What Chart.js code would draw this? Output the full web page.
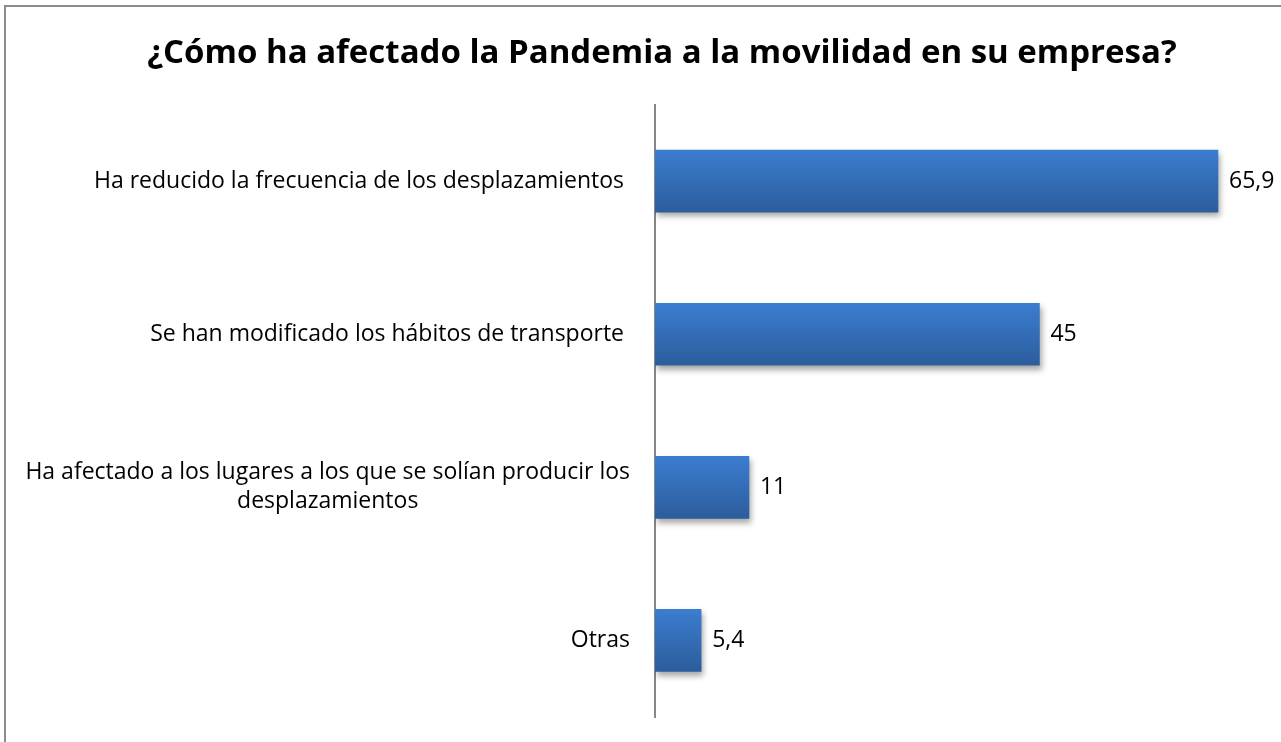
<!DOCTYPE html>
<html>
<head>
<meta charset="utf-8">
<script src="https://cdn.jsdelivr.net/npm/chart.js@4"></script>
<style>
  html, body { margin: 0; padding: 0; background: #fff; }
  #wrap { width: 1281px; height: 742px; position: relative; }
</style>
</head>
<body>
<div id="wrap"><canvas id="movilidadChart"></canvas></div>
<script>
const categories = [
  ['Ha reducido la frecuencia de los desplazamientos '],
  ['Se han modificado los hábitos de transporte '],
  ['Ha afectado a los lugares a los que se solían producir los', 'desplazamientos'],
  ['Otras']
];
const values = [65.9, 45, 11, 5.4];
const valueLabels = ['65,9', '45', '11', '5,4'];

const LABEL_FONT = '23px "Open Sans"';

// frame, custom left labels and value labels
const extras = {
  id: 'extras',
  beforeDatasetsDraw(chart) {
    const c = chart.ctx;
    c.save();
    c.shadowColor = 'rgba(0,0,0,0.35)';
    c.shadowBlur = 6;
    c.shadowOffsetX = 2;
    c.shadowOffsetY = 4;
  },
  afterDatasetsDraw(chart) {
    chart.ctx.restore();
  },
  afterDraw(chart) {
    const c = chart.ctx;
    const y = chart.scales.y;
    const x = chart.scales.x;
    c.save();
    // outer frame (top + left only visible)
    c.fillStyle = '#8c8c8c';
    c.fillRect(4, 5, chart.width - 4, 2);
    c.fillRect(4, 5, 2, chart.height - 5);

    c.font = LABEL_FONT;
    c.fillStyle = '#000';
    c.textBaseline = 'middle';
    c.textAlign = 'center';
    const right = 630;
    const lh = 29;
    categories.forEach((lines, i) => {
      const yc = y.getPixelForValue(i);
      const widest = Math.max(...lines.map(l => c.measureText(l).width));
      const cx = right - widest / 2;
      const y0 = yc - (lines.length - 1) * lh / 2;
      lines.forEach((l, k) => c.fillText(l, cx, y0 + k * lh));
    });

    c.textAlign = 'left';
    values.forEach((v, i) => {
      c.fillText(valueLabels[i], x.getPixelForValue(v) + 11, y.getPixelForValue(i));
    });
    c.restore();
  }
};

function barGradient(context) {
  const chart = context.chart;
  if (!chart.chartArea) return '#3470b8';
  const yc = chart.scales.y.getPixelForValue(context.dataIndex);
  const g = chart.ctx.createLinearGradient(0, yc - 31, 0, yc + 31);
  g.addColorStop(0, '#3b7dd0');
  g.addColorStop(1, '#2c5d9c');
  return g;
}

const ctx = document.getElementById('movilidadChart').getContext('2d');
new Chart(ctx, {
  type: 'bar',
  data: {
    labels: categories,
    datasets: [{
      data: values,
      backgroundColor: barGradient,
      borderWidth: 0,
      barThickness: 62
    }]
  },
  options: {
    indexAxis: 'y',
    responsive: true,
    maintainAspectRatio: false,
    animation: false,
    layout: { padding: { left: 71, right: 28, top: 0, bottom: 25 } },
    scales: {
      x: { display: false, min: 0, max: 70 },
      y: {
        grid: { display: false },
        ticks: { display: false },
        border: { display: true, color: '#868686', width: 2 },
        afterFit(scale) { scale.width = 584; }
      }
    },
    plugins: {
      legend: { display: false },
      tooltip: { enabled: false },
      title: {
        display: true,
        text: '¿Cómo ha afectado la Pandemia a la movilidad en su empresa?',
        color: '#000',
        font: { family: '"Open Sans"', size: 33, weight: 'bold' },
        padding: { top: 34, bottom: 31 }
      }
    }
  },
  plugins: [extras]
});
</script>
</body>
</html>
